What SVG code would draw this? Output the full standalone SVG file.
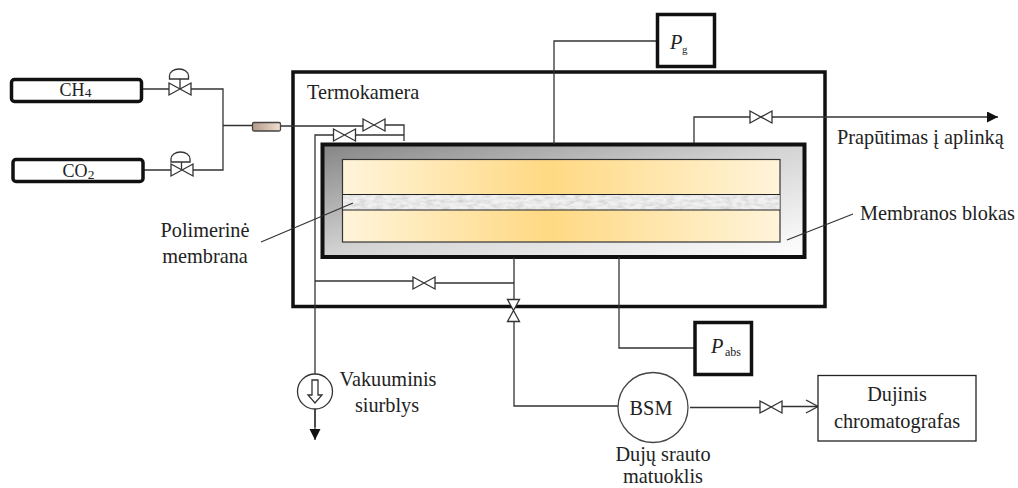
<svg xmlns="http://www.w3.org/2000/svg" width="1018" height="488" viewBox="0 0 1018 488">
<style>
text{font-family:"Liberation Serif","Times New Roman",serif;font-size:20.300px;fill:#222}
.m{text-anchor:middle}
.sm{font-size:11px}
.gas{font-size:18px}
.sub{font-size:13.500px}
.thick{fill:#fff;stroke:#111;stroke-width:3.5}
.line{fill:none;stroke:#333;stroke-width:1.3}
.thin{fill:none;stroke:#333;stroke-width:1.2}
.v{fill:#fff;stroke:#333;stroke-width:1.3}
</style>
<defs>
<linearGradient id="grey" x1="0" y1="0" x2="1" y2="1"><stop offset="0" stop-color="#858585"/><stop offset="0.5" stop-color="#d4d4d4"/><stop offset="1" stop-color="#ffffff"/></linearGradient>
<linearGradient id="warm" x1="0" y1="0" x2="1" y2="0"><stop offset="0" stop-color="#fff4da"/><stop offset="0.47" stop-color="#ffd983"/><stop offset="1" stop-color="#fff4da"/></linearGradient>
<linearGradient id="filt" x1="0" y1="0" x2="1" y2="0"><stop offset="0" stop-color="#b59a88"/><stop offset="1" stop-color="#f0dfd0"/></linearGradient>
<filter id="mottle" x="0" y="0" width="1" height="1"><feTurbulence type="fractalNoise" baseFrequency="0.12 0.3" numOctaves="3" seed="4"/><feColorMatrix values="0 0 0 0 0.6  0 0 0 0 0.6  0 0 0 0 0.6  1.6 0 0 0 -0.55"/><feComposite in2="SourceGraphic" operator="over"/></filter>
<g id="valve"><path class="v" d="M-11,-6 L11,6 L11,-6 L-11,6 Z"/></g>
<g id="vvalve"><path class="v" d="M-6,-11 L6,-11 L-6,11 L6,11 Z"/></g>
<marker id="solid" markerUnits="userSpaceOnUse" markerWidth="12" markerHeight="12" refX="11" refY="5.500" orient="auto"><path d="M0,0 L11,5.500 L0,11 Z" fill="#111"/></marker>
<marker id="open" markerUnits="userSpaceOnUse" markerWidth="14" markerHeight="16" refX="13" refY="7.500" orient="auto"><path d="M1,1 L13,7.500 L1,14" fill="none" stroke="#333" stroke-width="1.300"/></marker>
</defs>
<rect width="1018" height="488" fill="#fff"/>

<g id="termokamera"><rect class="thick" x="293" y="72" width="532" height="234.500"/><text x="307" y="99">Termokamera</text></g>

<g id="membranos-blokas">
<rect x="322.500" y="144.500" width="482" height="112.500" fill="url(#grey)" stroke="#111" stroke-width="4"/>
<rect x="342.500" y="159.500" width="437.500" height="82.500" fill="url(#warm)" stroke="#333" stroke-width="1.200"/>
<rect x="343" y="194.500" width="436.500" height="15.500" fill="#f1f1f1" filter="url(#mottle)"/>
<path d="M342.500,194.500H780M342.500,210H780" stroke="#222" stroke-width="1.200" fill="none"/>
</g>

<g id="connectors">
<path class="line" d="M142,89H169M191,89H223V170H193M144,170H171"/>
<path class="line" d="M223,125.500H252M281,126H363M385,125H404V141"/>
<path class="line" d="M404,135H355M334,135H315V427"/>
<path class="line" d="M315,409V440" marker-end="url(#solid)"/>
<path class="line" d="M554,144V41H657"/>
<path class="line" d="M619,257V348H694"/>
<path class="line" d="M694,143V117H750"/>
<path class="line" d="M772,117H998" marker-end="url(#solid)"/>
<path class="line" d="M514,257V300M514,321V406H618"/>
<path class="line" d="M514,283H435M413,281H315"/>
<path class="line" d="M690,407.500H760"/>
<path class="line" d="M782,406.500H818" marker-end="url(#open)"/>
<path class="thin" d="M353,203L261,242"/>
<path class="thin" d="M787,240L853,214"/>
</g>

<g id="ch4"><rect class="thick" x="11.500" y="79.500" width="130" height="22" rx="3"/><text class="m gas" x="75.500" y="95.500">CH<tspan class="sub" dy="1">4</tspan></text></g>
<g id="co2"><rect class="thick" x="13" y="159.500" width="130" height="22" rx="3"/><text class="m gas" x="78.500" y="177">CO<tspan class="sub" dy="1.500">2</tspan></text></g>

<g id="valve-ch4"><path class="line" d="M180,79V89M169.500,79V76A9.500,7 0 0 1 188.500,76V79Z"/><use href="#valve" x="180" y="89"/></g>
<g id="valve-co2"><path class="line" d="M181.500,162V170M171,162V159A9.500,7 0 0 1 190,159V162Z"/><use href="#valve" x="182" y="170"/></g>
<g id="filter"><rect x="252.500" y="122.500" width="28" height="8.500" rx="1.500" fill="url(#filt)" stroke="#444" stroke-width="1.300"/></g>
<g id="valve-in1"><use href="#valve" x="374" y="125"/></g>
<g id="valve-in2"><use href="#valve" x="344.500" y="135"/></g>
<g id="valve-out"><use href="#valve" x="761" y="117"/></g>
<g id="valve-bypass"><use href="#valve" x="424" y="283"/></g>
<g id="valve-bottom"><use href="#vvalve" x="513.500" y="310.500"/></g>
<g id="valve-gc"><use href="#valve" x="771" y="407"/></g>

<g id="pg"><rect class="thick" x="657.500" y="14.500" width="57" height="52"/><text x="670" y="49" font-style="italic">P</text><text class="sm" x="682" y="53">g</text></g>
<g id="pabs"><rect class="thick" x="695" y="322.500" width="56.500" height="52"/><text x="711" y="353" font-style="italic">P</text><text x="725" y="356" style="font-size:12px">abs</text></g>

<g id="pump"><circle cx="315" cy="391.500" r="17.500" fill="#fff" stroke="#333" stroke-width="1.300"/><path class="line" d="M312,380H318V395H322L315,403L308,395H312Z"/></g>
<g id="bsm"><circle cx="653" cy="407.500" r="35" fill="#fff" stroke="#444" stroke-width="1.300"/><text class="m" x="651" y="415">BSM</text></g>
<g id="gc"><rect x="818" y="375.500" width="158" height="65.500" fill="#fff" stroke="#222" stroke-width="1.300"/><text class="m" x="897" y="401">Dujinis</text><text class="m" x="897" y="428">chromatografas</text></g>

<g id="labels">
<text class="m" x="205" y="237">Polimerinė</text><text class="m" x="205" y="263">membrana</text>
<text class="m" x="388" y="386">Vakuuminis</text><text class="m" x="387" y="412">siurblys</text>
<text class="m" x="663" y="461">Dujų srauto</text><text class="m" x="663" y="483">matuoklis</text>
<text x="837" y="144">Prapūtimas į aplinką</text>
<text x="860" y="220">Membranos blokas</text>
</g>
</svg>
